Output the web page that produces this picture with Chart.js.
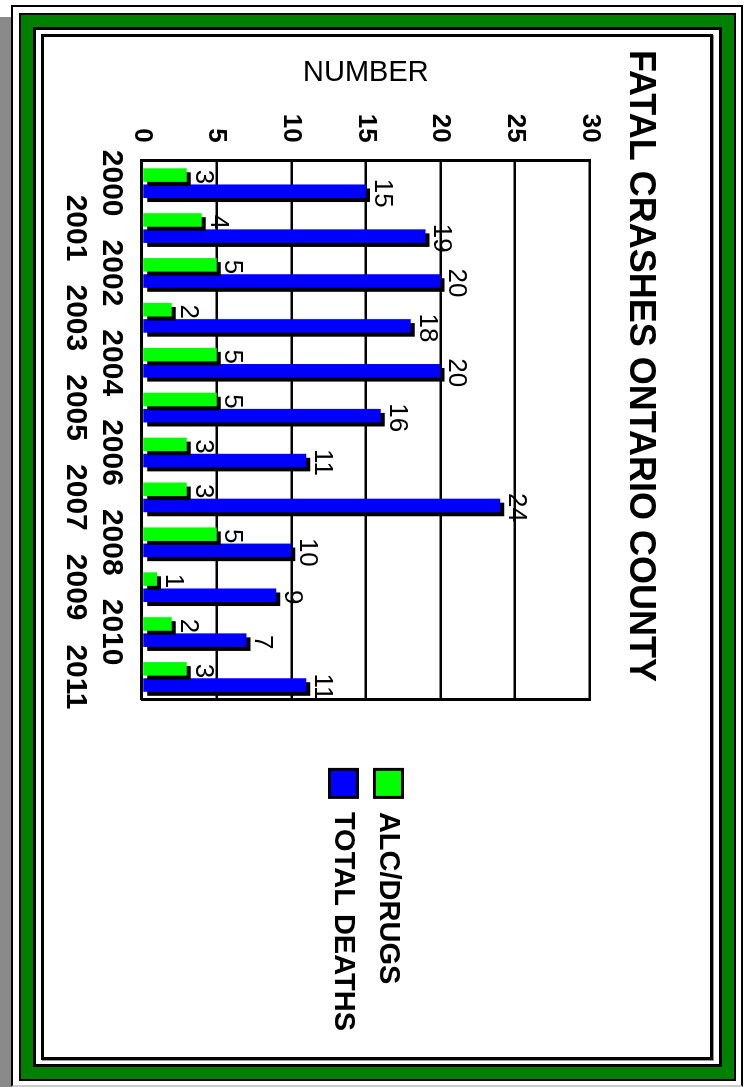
<!DOCTYPE html>
<html lang="en">
<head>
    <meta charset="UTF-8">
    <title>Fatal Crashes Ontario County</title>
    <script src="https://cdn.jsdelivr.net/npm/chart.js"></script>
    <style>
        html, body {
            margin: 0;
            padding: 0;
            width: 747px;
            height: 1087px;
            overflow: hidden;
            background: #fff;
        }
        .shade { position: absolute; left: 0; top: 17px; width: 11px; height: 1070px; background: #8a8a8a; }
        .outer { position: absolute; left: 11px; top: 5px; width: 732px; height: 1082px; box-sizing: border-box;
                 border: 2px solid #000; border-bottom-color: #ccc; }
        .green { position: absolute; left: 21px; top: 15px; width: 713px; height: 1064px; box-sizing: border-box;
                 border: 12px solid #008000; outline: 2px solid #000; box-shadow: inset 0 0 0 3px #000; }
        .inner { position: absolute; left: 41px; top: 34px; width: 672px; height: 1026px; box-sizing: border-box;
                 border: 3px solid #000; box-shadow: 1px 1px 0 #999; background: #fff; }
        /* chart is drawn landscape, then turned a quarter clockwise */
        .chart-box {
            position: absolute;
            left: 44px;
            top: 37px;
            width: 1020px;
            height: 666px;
            transform-origin: top left;
            transform: translateX(666px) rotate(90deg);
        }
    </style>
</head>
<body>
    <div class="shade"></div>
    <div class="outer"></div>
    <div class="green"></div>
    <div class="inner"></div>
    <div class="chart-box">
        <canvas id="crashChart" width="1020" height="666"></canvas>
    </div>

    <script>
        const years = ['2000', '2001', '2002', '2003', '2004', '2005', '2006', '2007', '2008', '2009', '2010', '2011'];
        const alcDrugs = [3, 4, 5, 2, 5, 5, 3, 3, 5, 1, 2, 3];
        const totalDeaths = [15, 19, 20, 18, 20, 16, 11, 24, 10, 9, 7, 11];
        const seriesNames = ['ALC/DRUGS', 'TOTAL DEATHS'];

        const FONT = '"Liberation Sans", Arial, sans-serif';

        // black drop shadow under the bars + value labels at the bar ends
        const barExtras = {
            id: 'barExtras',
            beforeDatasetsDraw(chart) {
                const ctx = chart.ctx;
                ctx.save();
                ctx.shadowColor = '#000';
                ctx.shadowBlur = 0;
                ctx.shadowOffsetX = 4;
                ctx.shadowOffsetY = -4;
            },
            afterDatasetsDraw(chart) {
                const ctx = chart.ctx;
                ctx.restore();
                ctx.save();
                ctx.font = '26px ' + FONT;
                ctx.fillStyle = '#000';
                ctx.textAlign = 'center';
                ctx.textBaseline = 'bottom';
                chart.data.datasets.forEach((ds, i) => {
                    chart.getDatasetMeta(i).data.forEach((bar, j) => {
                        ctx.fillText(ds.data[j], bar.x + 2, bar.y - 3);
                    });
                });
                ctx.restore();
            }
        };

        const ctx = document.getElementById('crashChart').getContext('2d');

        const crashChart = new Chart(ctx, {
            type: 'bar',
            data: {
                labels: years,
                datasets: [{
                    label: seriesNames[0],
                    data: alcDrugs,
                    backgroundColor: '#00ff00',
                    borderWidth: 0,
                    categoryPercentage: 0.72,
                    barPercentage: 0.84
                }, {
                    label: seriesNames[1],
                    data: totalDeaths,
                    backgroundColor: '#0000ff',
                    borderWidth: 0,
                    categoryPercentage: 0.72,
                    barPercentage: 0.84
                }]
            },
            options: {
                responsive: false,
                animation: false,
                layout: {
                    padding: { left: 13, right: 16, top: 0, bottom: 0 }
                },
                plugins: {
                    title: {
                        display: true,
                        text: 'FATAL CRASHES ONTARIO COUNTY',
                        align: 'start',
                        color: '#000',
                        font: { family: FONT, size: 36, weight: 'bold' },
                        padding: { top: 48, bottom: 29 }
                    },
                    legend: {
                        display: true,
                        position: 'right',
                        align: 'center',
                        fullSize: false,
                        maxWidth: 400,
                        labels: {
                            color: '#000',
                            font: { family: FONT, size: 29, weight: 'bold' },
                            boxWidth: 28,
                            boxHeight: 28,
                            padding: 16,
                            generateLabels(chart) {
                                const items = Chart.defaults.plugins.legend.labels.generateLabels(chart);
                                items.forEach(item => {
                                    item.lineWidth = 3;
                                    item.strokeStyle = '#000';
                                });
                                return items;
                            }
                        }
                    },
                    tooltip: { enabled: false }
                },
                scales: {
                    x: {
                        grid: { display: false, drawTicks: false },
                        border: { display: true, color: '#000', width: 3 },
                        ticks: {
                            color: '#000',
                            font: { family: FONT, size: 30, weight: 'bold' },
                            autoSkip: false,
                            maxRotation: 0,
                            minRotation: 0,
                            padding: 13,
                            // Excel staggered the year labels on two rows
                            callback: function(value, index) {
                                const label = this.getLabelForValue(value);
                                return index % 2 ? ['', label] : label;
                            }
                        }
                    },
                    y: {
                        min: 0,
                        max: 30,
                        title: {
                            display: true,
                            text: 'NUMBER',
                            color: '#000',
                            font: { family: FONT, size: 29 },
                            padding: { top: 6, bottom: 5 }
                        },
                        grid: { color: '#000', lineWidth: 2.5, drawTicks: false },
                        border: { display: true, color: '#000', width: 3 },
                        ticks: {
                            stepSize: 5,
                            color: '#000',
                            font: { family: FONT, size: 26, weight: 'bold' },
                            padding: 18
                        }
                    },
                    // closes the plot box on the far side and leaves the gap before the legend
                    yEdge: {
                        position: 'right',
                        display: true,
                        grid: { display: false, drawTicks: false },
                        border: { display: true, color: '#000', width: 3 },
                        ticks: { display: false },
                        afterFit(scale) {
                            scale.width = 54;
                        }
                    }
                }
            },
            plugins: [barExtras]
        });
    </script>
</body>
</html>
